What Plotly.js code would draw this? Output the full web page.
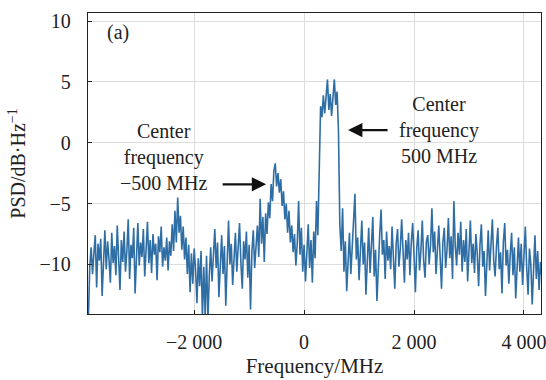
<!DOCTYPE html>
<html>
<head>
<meta charset="utf-8">
<script src="https://cdn.plot.ly/plotly-3.0.1.min.js"></script>
<style>html,body{margin:0;padding:0;background:#fff;}#chart{width:546px;height:380px;}</style>
</head>
<body>
<div id="chart"></div>
<script>
// Frequency grid (MHz): first sample and spacing
const freqStart = -3925;
const freqStep = 25;
// PSD values (dB/Hz), 8 samples (200 MHz) per row
const psd = [
  /* -3925 */ -14.5,-10.2,-8.6,-10.8,-9.1,-7.6,-11.9,-8.3,
  /* -3725 */ -9.7,-7.9,-12.6,-9.0,-7.2,-10.4,-8.1,-9.6,
  /* -3525 */ -11.5,-7.4,-9.9,-8.5,-10.9,-6.8,-9.3,-12.1,
  /* -3325 */ -8.0,-9.8,-7.3,-10.6,-8.9,-6.3,-11.2,-8.4,
  /* -3125 */ -9.5,-7.0,-12.4,-8.7,-6.6,-10.1,-8.2,-9.4,
  /* -2925 */ -7.1,-11.0,-8.8,-6.5,-9.9,-8.0,-10.7,-7.5,
  /* -2725 */ -9.2,-8.3,-11.3,-7.7,-9.0,-6.9,-10.2,-8.6,
  /* -2525 */ -9.7,-7.8,-10.5,-8.1,-9.3,-6.7,-8.9,-5.6,
  /* -2325 */ -8.2,-4.5,-7.4,-6.0,-8.8,-6.9,-9.6,-7.8,
  /* -2125 */ -10.8,-8.4,-12.3,-9.1,-11.6,-8.7,-10.4,-13.2,
  /* -1925 */ -9.5,-11.8,-8.9,-14.5,-10.2,-14.3,-9.3,-14.6,
  /* -1725 */ -10.9,-8.6,-11.4,-9.0,-7.1,-10.3,-8.2,-12.7,
  /* -1525 */ -9.4,-7.6,-10.8,-8.5,-13.4,-9.1,-6.4,-10.0,
  /* -1325 */ -8.3,-11.7,-9.2,-7.4,-10.6,-8.8,-6.6,-9.9,
  /* -1125 */ -12.0,-8.1,-9.6,-7.3,-11.1,-8.4,-13.7,-9.0,
  /* -925 */ -7.2,-10.3,-8.0,-6.8,-9.4,-4.6,-8.3,-6.1,
  /* -725 */ -9.8,-5.8,-7.5,-4.9,-6.2,-3.4,-4.8,-2.3,
  /* -525 */ -1.7,-3.6,-2.5,-4.1,-3.0,-5.2,-4.0,-6.3,
  /* -325 */ -5.0,-7.4,-5.6,-8.2,-6.8,-9.0,-7.5,-10.1,
  /* -125 */ -8.3,-4.8,-9.2,-7.0,-10.6,-8.4,-11.4,-9.1,
  /* 75 */ -6.7,-10.3,-8.0,-11.5,-7.3,-9.5,-4.8,-7.6,
  /* 275 */ -1.5,3.0,2.1,3.9,2.4,4.3,5.2,2.7,
  /* 475 */ 4.0,2.2,3.8,5.2,3.1,4.2,1.0,-6.8,
  /* 675 */ -8.9,-5.4,-10.6,-8.1,-12.2,-9.0,-7.4,-10.8,
  /* 875 */ -8.5,-6.2,-4.2,-9.6,-7.8,-11.3,-8.6,-6.4,
  /* 1075 */ -10.0,-8.2,-12.5,-9.3,-7.0,-10.7,-8.4,-6.1,
  /* 1275 */ -11.0,-8.8,-13.0,-9.5,-7.6,-5.5,-9.2,-8.0,
  /* 1475 */ -11.2,-7.3,-9.7,-8.5,-10.4,-6.9,-9.1,-12.0,
  /* 1675 */ -8.3,-7.1,-10.2,-8.7,-6.3,-9.8,-11.5,-8.0,
  /* 1875 */ -9.6,-7.4,-10.9,-8.2,-6.6,-9.3,-12.3,-8.6,
  /* 2075 */ -7.2,-10.5,-8.9,-6.4,-9.7,-11.1,-8.1,-7.6,
  /* 2275 */ -10.0,-8.4,-5.4,-9.0,-7.3,-10.8,-8.6,-6.8,
  /* 2475 */ -9.4,-12.0,-8.2,-7.0,-10.3,-8.8,-6.2,-9.5,
  /* 2675 */ -7.7,-11.2,-4.8,-8.5,-10.1,-7.4,-9.2,-6.5,
  /* 2875 */ -10.6,-8.0,-9.8,-7.1,-11.4,-8.7,-6.4,-9.9,
  /* 3075 */ -8.3,-10.7,-7.5,-9.1,-11.8,-8.4,-6.7,-10.2,
  /* 3275 */ -8.9,-12.6,-9.3,-7.2,-10.5,-8.1,-6.3,-9.7,
  /* 3475 */ -11.0,-8.5,-7.0,-10.4,-9.0,-12.4,-8.2,-6.6,
  /* 3675 */ -10.1,-8.8,-11.6,-9.2,-7.4,-10.9,-8.6,-12.8,
  /* 3875 */ -9.4,-7.8,-10.6,-8.3,-11.7,-9.1,-6.9,-10.3,
  /* 4075 */ -12.5,-8.7,-10.0,-13.3,-9.5,-7.6,-11.2,-8.9,
  /* 4275 */ -12.1,-9.8,-11.0
];
const freq = psd.map((_, i) => freqStart + i * freqStep);

const xTickVals = [-2000, 0, 2000, 4000];
const xTickText = ["\u22122 000", "0", "2 000", "4 000"];
const yTickVals = [-10, -5, 0, 5, 10];
const yTickText = ["\u221210", "\u22125", "0", "5", "10"];

const serif = "Liberation Serif, Times New Roman, serif";
const fontSize = 20;

const trace = {
  x: freq, y: psd, type: "scatter", mode: "lines",
  line: {color: "#2f6ea5", width: 1.6},
  hoverinfo: "skip"
};

const axisCommon = {
  showgrid: true, gridcolor: "#dcdcdc", gridwidth: 1,
  showline: true, linecolor: "#222", linewidth: 1.2, mirror: true,
  ticks: "inside", ticklen: 4, tickcolor: "#222", tickwidth: 1,
  zeroline: false, ticklabeloverflow: "allow",
  tickfont: {family: serif, size: fontSize, color: "#222"}
};

const layout = {
  width: 546, height: 380,
  margin: {l: 88, r: 5, t: 13, b: 66},
  paper_bgcolor: "#fff", plot_bgcolor: "#fff",
  showlegend: false,
  font: {family: serif, size: fontSize, color: "#222"},
  xaxis: Object.assign({}, axisCommon, {
    range: [-3932, 4310], tickvals: xTickVals, ticktext: xTickText,
    ticklabelstandoff: 10,
    title: {text: "Frequency/MHz", font: {family: serif, size: 21, color: "#222"}, standoff: 6}
  }),
  yaxis: Object.assign({}, axisCommon, {
    range: [-14.08, 10.66], tickvals: yTickVals, ticktext: yTickText,
    ticklabelstandoff: 12,
    title: {text: "PSD/dB\u00b7Hz<sup>\u22121</sup>", font: {family: serif, size: fontSize, color: "#222"}, standoff: 8}
  }),
  annotations: [
    {x: -3381, y: 9.02, xref: "x", yref: "y", text: "(a)", showarrow: false,
     font: {family: serif, size: fontSize, color: "#222"}},
    {x: -2552, y: -1.15, xref: "x", yref: "y", text: "Center<br>frequency<br>\u2212500 MHz",
     showarrow: false, align: "center", xanchor: "center", yanchor: "middle",
     font: {family: serif, size: fontSize, color: "#222"}},
    {x: 2462, y: 1.04, xref: "x", yref: "y", text: "Center<br>frequency<br>500 MHz",
     showarrow: false, align: "center", xanchor: "center", yanchor: "middle",
     font: {family: serif, size: fontSize, color: "#222"}},
    {x: -691, y: -3.42, xref: "x", yref: "y", text: "", showarrow: true,
     ax: -45, ay: 0, arrowhead: 2, arrowsize: 1.3, arrowwidth: 2.2, arrowcolor: "#111", standoff: 0},
    {x: 800, y: 1.04, xref: "x", yref: "y", text: "", showarrow: true,
     ax: 41, ay: 0, arrowhead: 2, arrowsize: 1.3, arrowwidth: 2.2, arrowcolor: "#111", standoff: 0}
  ]
};

Plotly.newPlot("chart", [trace], layout, {displayModeBar: false, staticPlot: true});
</script>
</body>
</html>
